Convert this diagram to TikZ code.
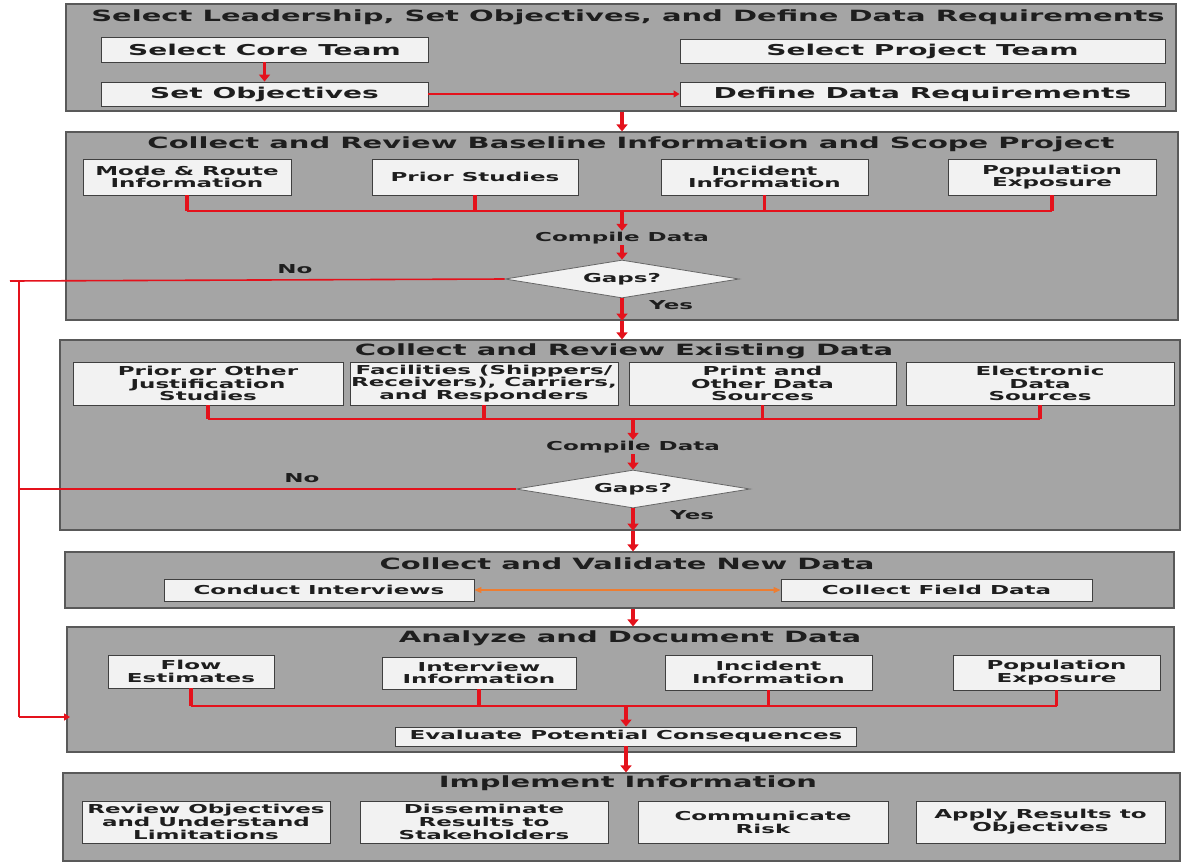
\documentclass[tikz,border=0pt]{standalone}
\usepackage{fontspec}
\setmainfont{DejaVu Sans}[FakeStretch=1.87]
\usetikzlibrary{arrows.meta,shapes.geometric,positioning}

\definecolor{panelgray}{RGB}{165,165,165}
\definecolor{boxgray}{RGB}{242,242,242}
\definecolor{flowred}{RGB}{228,18,28}
\definecolor{linkorange}{RGB}{237,125,49}
\definecolor{inkgray}{RGB}{30,30,30}

\newcommand{\ttlfnt}{\fontsize{15.5}{17}\selectfont\bfseries}
\newcommand{\bigfnt}{\fontsize{15}{17}\selectfont\bfseries}
\newcommand{\smlfnt}{\fontsize{12.3}{12.8}\selectfont\bfseries}

\begin{document}
\begin{tikzpicture}[x=1pt,y=-1pt,text=inkgray,
    panel/.style={rectangle,draw=black!65,fill=panelgray,line width=1.2pt,inner sep=0pt},
    ttl/.style={font=\ttlfnt,inner sep=0pt},
    box/.style={rectangle,draw=black!75,fill=boxgray,line width=0.9pt,align=center,inner sep=0pt,font=\smlfnt},
    bigbox/.style={box,font=\bigfnt},
    lbl/.style={font=\smlfnt,inner sep=1pt},
    gap/.style={diamond,aspect=6.2,draw=black!60,fill=boxgray,line width=0.8pt,font=\smlfnt,inner sep=0pt,
        minimum width=234pt,minimum height=38pt},
    flow/.style={draw=flowred,line width=3.6pt,-{Triangle[length=7pt,width=11pt]}},
    bus/.style={draw=flowred,line width=1.8pt},
    stub/.style={draw=flowred,line width=3.8pt},
    back/.style={draw=flowred,line width=1.6pt},
    link/.style={draw=linkorange,line width=1.2pt,{Triangle[length=7pt,width=6pt]}-{Triangle[length=7pt,width=6pt]}}]

  \useasboundingbox[fill=white] (0,0) rectangle (1183,863);

  % panels
  \node[panel,minimum width=1110pt,minimum height=107pt] (p1) at (621,57.5) {};
  \node[panel,minimum width=1112pt,minimum height=188pt] (p2) at (622,226) {};
  \node[panel,minimum width=1120pt,minimum height=190pt] (p3) at (620,435) {};
  \node[panel,minimum width=1109pt,minimum height=56pt] (p4) at (619.5,580) {};
  \node[panel,minimum width=1107pt,minimum height=125pt] (p5) at (620.5,689.5) {};
  \node[panel,minimum width=1117pt,minimum height=88pt] (p6) at (621.5,817) {};

  \node[ttl] (t1) at (628,17) {Select Leadership, Set Objectives, and Define Data Requirements};
  \node[ttl] (t2) at (631,144) {Collect and Review Baseline Information and Scope Project};
  \node[ttl] (t3) at (624,351) {Collect and Review Existing Data};
  \node[ttl] (t4) at (627,564) {Collect and Validate New Data};
  \node[ttl] (t5) at (630,638) {Analyze and Document Data};
  \node[ttl] (t6) at (628,783) {Implement Information};

  % panel 1
  \node[bigbox,minimum width=327pt,minimum height=25pt] (core) at (264.5,49.5) {Select Core Team};
  \node[bigbox,minimum width=327pt,minimum height=24pt] (obj) at (264.5,94) {Set Objectives};
  \node[bigbox,minimum width=485pt,minimum height=24pt] (proj) at (922.5,51) {Select Project Team};
  \node[bigbox,minimum width=485pt,minimum height=24pt] (req) at (922.5,94) {Define Data Requirements};
  \draw[flow] (core) -- (obj);
  \draw[draw=flowred,line width=1.6pt,-{Triangle[length=6pt,width=7pt]}] (obj) -- (req);

  % panel 2
  \node[box,minimum width=208pt,minimum height=36pt] (mode) at (187,177) {Mode \& Route\\Information};
  \node[box,minimum width=206pt,minimum height=36pt] (prior) at (475,177) {Prior Studies};
  \node[box,minimum width=207pt,minimum height=36pt] (inc) at (764.5,177) {Incident\\Information};
  \node[box,minimum width=208pt,minimum height=36pt] (pop) at (1052,177) {Population\\Exposure};
  \coordinate (bus1) at (622,211);
  \node[lbl] (cmp1) at (622,238) {Compile Data};
  \node[gap] (gaps1) at (622,279) {Gaps?};
  \node[lbl] (no1) at (295,269) {No};
  \node[lbl,below right=1pt and 26pt of gaps1.south] (yes1) {Yes};
  \draw[bus] (mode.south |- bus1) -- (pop.south |- bus1);
  \foreach \b in {mode,prior,inc,pop}
    \draw[stub] (\b.south) -- (\b.south |- bus1);
  \draw[flow] (p1.south -| bus1) -- (p2.north -| bus1);
  \draw[flow] (bus1) -- (cmp1);
  \draw[flow] (cmp1) -- (gaps1);
  \draw[flow] (gaps1) -- (p2.south -| gaps1);
  \draw[flow] (p2.south -| gaps1) -- (p3.north -| gaps1);

  % panel 3
  \node[box,minimum width=270pt,minimum height=43pt] (just) at (208,383.5) {Prior or Other\\Justification\\Studies};
  \node[box,minimum width=268pt,minimum height=43pt] (fac) at (484,383.5) {Facilities (Shippers/\\Receivers), Carriers,\\and Responders};
  \node[box,minimum width=267pt,minimum height=43pt] (print) at (762.5,383.5) {Print and\\Other Data\\Sources};
  \node[box,minimum width=268pt,minimum height=43pt] (elec) at (1040,383.5) {Electronic\\Data\\Sources};
  \coordinate (bus2) at (633,419);
  \node[lbl] (cmp2) at (633,447) {Compile Data};
  \node[gap] (gaps2) at (633,489) {Gaps?};
  \node[lbl] (no2) at (302,478) {No};
  \node[lbl,below right=1pt and 36pt of gaps2.south] (yes2) {Yes};
  \draw[bus] (just.south |- bus2) -- (elec.south |- bus2);
  \foreach \b in {just,fac,print,elec}
    \draw[stub] (\b.south) -- (\b.south |- bus2);
  \draw[flow] (bus2) -- (cmp2);
  \draw[flow] (cmp2) -- (gaps2);
  \draw[flow] (gaps2) -- (p3.south -| gaps2);
  \draw[flow] (p3.south -| gaps2) -- (p4.north -| gaps2);

  % panel 4
  \node[box,minimum width=310pt,minimum height=22pt] (intv) at (319,590) {Conduct Interviews};
  \node[box,minimum width=311pt,minimum height=22pt] (field) at (936.5,590) {Collect Field Data};
  \draw[link] (intv) -- (field);
  \draw[flow] (p4.south -| gaps2) -- (p5.north -| gaps2);

  % panel 5
  \node[box,minimum width=166pt,minimum height=33pt] (flowest) at (191,671.5) {Flow\\Estimates};
  \node[box,minimum width=194pt,minimum height=32pt] (iinfo) at (479,673) {Interview\\Information};
  \node[box,minimum width=207pt,minimum height=35pt] (inc2) at (768.5,672.5) {Incident\\Information};
  \node[box,minimum width=207pt,minimum height=35pt] (pop2) at (1056.5,672.5) {Population\\Exposure};
  \node[box,minimum width=461pt,minimum height=19pt] (eval) at (626,736.5) {Evaluate Potential Consequences};
  \coordinate (bus3) at (626,706);
  \draw[bus] (flowest.south |- bus3) -- (pop2.south |- bus3);
  \foreach \b in {flowest,iinfo,inc2,pop2}
    \draw[stub] (\b.south) -- (\b.south |- bus3);
  \draw[flow] (bus3) -- (eval);
  \draw[flow] (eval) -- (p6.north -| eval);

  % panel 6
  \node[box,minimum width=248pt,minimum height=42pt] (rev) at (206,822) {Review Objectives\\and Understand\\Limitations};
  \node[box,minimum width=248pt,minimum height=42pt] (diss) at (484,822) {Disseminate\\Results to\\Stakeholders};
  \node[box,minimum width=250pt,minimum height=42pt] (comm) at (763,822) {Communicate\\Risk};
  \node[box,minimum width=249pt,minimum height=42pt] (apply) at (1040.5,822) {Apply Results to\\Objectives};

  % no-gap loop back to analysis
  \coordinate (fbtop) at (19,281);
  \coordinate (fbend) at (70,717);
  \draw[back] (gaps1.west) -- (10,281);
  \draw[back] (gaps2.west) -- (fbtop |- gaps2.west);
  \draw[draw=flowred,line width=2.6pt] (fbtop) -- (fbtop |- fbend);
  \draw[back,-{Triangle[length=6pt,width=7pt]}] (fbtop |- fbend) -- (fbend);
\end{tikzpicture}
\end{document}
